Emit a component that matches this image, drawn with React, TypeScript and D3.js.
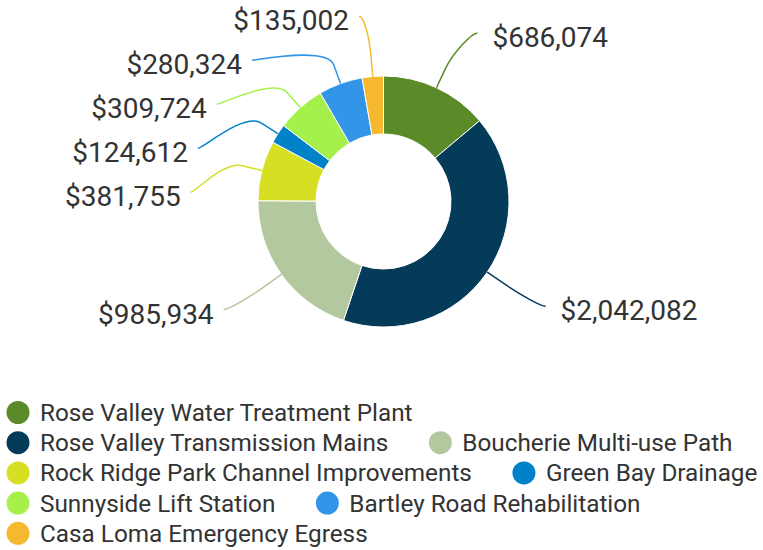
import React, { useEffect, useRef } from 'react';
import * as d3 from 'd3';

const projects = [
  'Rose Valley Water Treatment Plant',
  'Rose Valley Transmission Mains',
  'Boucherie Multi-use Path',
  'Rock Ridge Park Channel Improvements',
  'Green Bay Drainage',
  'Sunnyside Lift Station',
  'Bartley Road Rehabilitation',
  'Casa Loma Emergency Egress',
];
const costs = [686074, 2042082, 985934, 381755, 124612, 309724, 280324, 135002];
const colors = ['#5b8a29', '#033b59', '#b4c8a0', '#d6df22', '#0082c8', '#a5f04b', '#3395e8', '#f5b82f'];

const W = 763;
const H = 550;

function App() {
  const ref = useRef<SVGSVGElement>(null);

  useEffect(() => {
    const svg = d3.select(ref.current);
    svg.selectAll('*').remove();

    const cx = 383.5, cy = 201.5;
    const outer = 125.5, inner = 67.5;
    const labelR = 193, naturalR = 186, breakOff = 20;
    const spacing = 44, topY = 15;

    const rows = projects.map((p, i) => ({ name: p, value: costs[i], color: colors[i] }));
    const pie = d3.pie<any>().value(d => d.value).sort(null);
    const arcs = pie(rows);
    const arc = d3.arc<any>().innerRadius(inner).outerRadius(outer);

    const g = svg.append('g').attr('transform', `translate(${cx},${cy})`);
    g.selectAll('path.slice')
      .data(arcs)
      .join('path')
      .attr('class', 'slice')
      .attr('d', arc)
      .attr('fill', d => d.data.color)
      .attr('stroke', '#fff')
      .attr('stroke-width', 1);

    // label positions, then push apart on each side
    const labels = arcs.map(a => {
      const mid = (a.startAngle + a.endAngle) / 2;
      const left = Math.sin(mid) < 0;
      return {
        a, mid, left,
        y: -naturalR * Math.cos(mid),
        clamped: false,
      };
    });
    [true, false].forEach(side => {
      const list = labels.filter(l => l.left === side).sort((p, q) => p.y - q.y);
      let prev = -Infinity;
      list.forEach(l => {
        let y = Math.max(l.y, prev + spacing);
        if (y < topY - cy + 3) { y = Math.max(y, topY - cy); l.clamped = true; }
        l.y = y;
        prev = y;
      });
    });

    labels.forEach(l => {
      const s = Math.sin(l.mid), c = -Math.cos(l.mid);
      const tx = outer * s, ty = outer * c;
      const bx = (outer + breakOff) * s, by = (outer + breakOff) * c;
      const dir = l.left ? -1 : 1;
      const ex = l.clamped
        ? labelR * s + dir * 8
        : dir * Math.sqrt(Math.max(0, labelR * labelR - l.y * l.y));
      const ey = l.y;
      const path = d3.path();
      path.moveTo(ex, ey);
      path.bezierCurveTo(ex - dir * 5, ey, 2 * bx - tx, 2 * by - ty, bx, by);
      path.lineTo(tx, ty);
      g.append('path')
        .attr('d', path.toString())
        .attr('fill', 'none')
        .attr('stroke', l.a.data.color)
        .attr('stroke-width', 1.5);
      g.append('text')
        .attr('x', ex + (l.left ? -10 : 15))
        .attr('y', ey + 14)
        .attr('text-anchor', l.left ? 'end' : 'start')
        .attr('font-family', 'Roboto, sans-serif')
        .attr('font-size', 28)
        .attr('fill', '#333')
        .text('$' + d3.format(',')(l.a.data.value));
    });

    // legend, items flow left to right and wrap
    const legend = svg.append('g');
    const startX = 6, rowH = 30.2, firstRow = 412.5, gap = 40, maxX = W + 4;
    let x = startX, row = 0;
    rows.forEach(d => {
      const item = legend.append('g');
      item.append('circle').attr('cx', 12).attr('cy', 0).attr('r', 11.5).attr('fill', d.color);
      const t = item.append('text')
        .attr('x', 34)
        .attr('y', 0)
        .attr('dy', '0.35em')
        .attr('font-family', 'Roboto, sans-serif')
        .attr('font-size', 24.3)
        .attr('fill', '#333')
        .text(d.name);
      const w = 34 + (t.node() as SVGTextElement).getComputedTextLength();
      if (x > startX && x + w > maxX) { x = startX; row += 1; }
      item.attr('transform', `translate(${x},${firstRow + row * rowH})`);
      x += w + gap;
    });
  }, []);

  return <svg ref={ref} width={W} height={H} style={{ display: 'block', position: 'absolute', left: 0, top: 0 }} />;
}

export default App;
